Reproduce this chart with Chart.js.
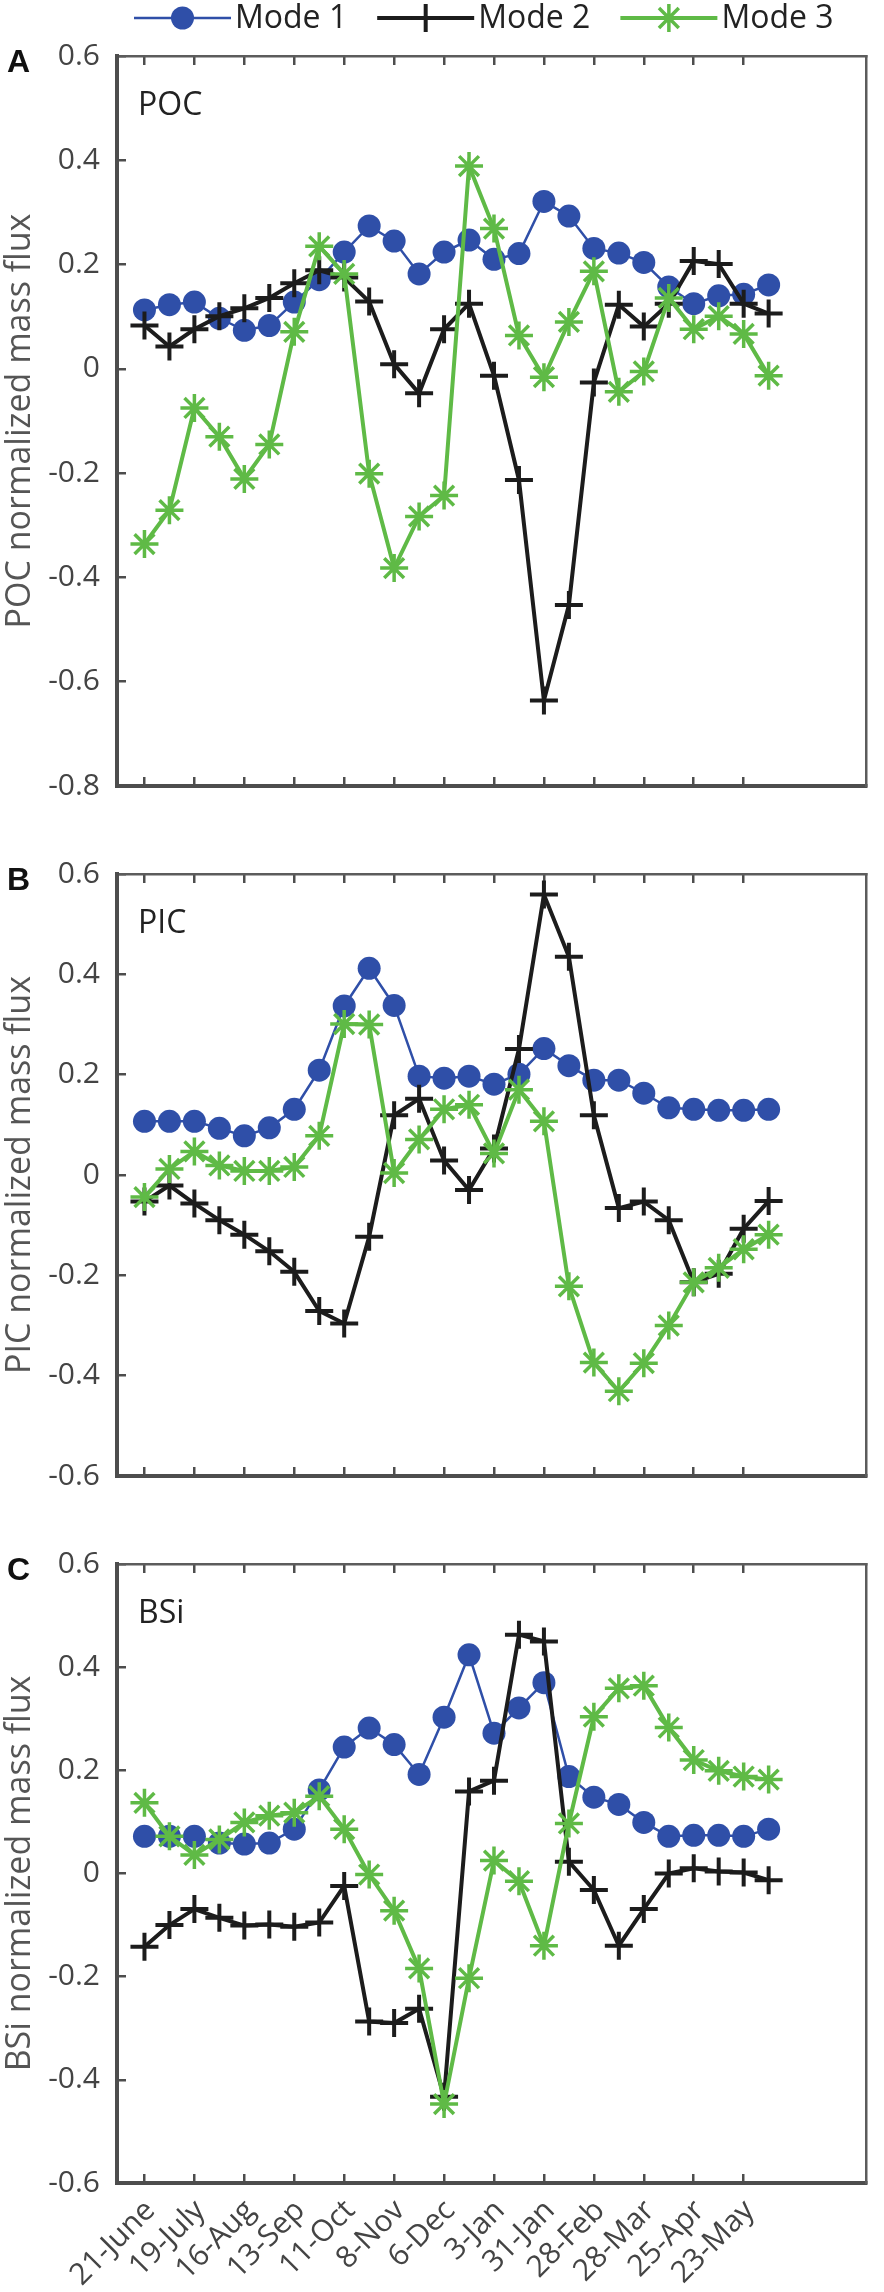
<!DOCTYPE html>
<html>
<head>
<meta charset="utf-8">
<script src="https://cdn.jsdelivr.net/npm/chart.js@4.4.1/dist/chart.umd.min.js"></script>
<style>
html, body { margin: 0; padding: 0; background: #fff; }
#wrap { position: relative; width: 884px; height: 2292px; }
.panel { position: absolute; left: 0; width: 884px; }
</style>
</head>
<body>
<div id="wrap">
  <div class="panel" style="top:0;height:830px"><canvas id="chartA"></canvas></div>
  <div class="panel" style="top:830px;height:690px"><canvas id="chartB"></canvas></div>
  <div class="panel" style="top:1520px;height:772px"><canvas id="chartC"></canvas></div>
</div>
<script>
// tick labels on the time axis (every 2nd sample, 28 days apart)
var xTickLabels = ['21-June', '19-July', '16-Aug', '13-Sep', '11-Oct', '8-Nov', '6-Dec',
                   '3-Jan', '31-Jan', '28-Feb', '28-Mar', '25-Apr', '23-May'];
var xTickPos = [0, 2, 4, 6, 8, 10, 12, 14, 16, 18, 20, 22, 24];

var seriesNames = ['Mode 1', 'Mode 2', 'Mode 3'];

// A - POC
var pocMode1 = [0.113, 0.123, 0.128, 0.097, 0.074, 0.083, 0.128, 0.171, 0.224, 0.274, 0.245, 0.182, 0.224,
                0.247, 0.210, 0.221, 0.321, 0.293, 0.231, 0.222, 0.204, 0.157, 0.125, 0.140, 0.143, 0.161];
var pocMode2 = [0.083, 0.043, 0.076, 0.101, 0.116, 0.136, 0.164, 0.189, 0.175, 0.129, 0.009, -0.047, 0.076,
                0.125, -0.013, -0.213, -0.636, -0.453, -0.026, 0.123, 0.081, 0.125, 0.207, 0.201, 0.125, 0.106];
var pocMode3 = [-0.336, -0.271, -0.075, -0.130, -0.211, -0.145, 0.071, 0.235, 0.182, -0.201, -0.382, -0.283, -0.243,
                0.389, 0.269, 0.064, -0.016, 0.090, 0.187, -0.044, -0.005, 0.136, 0.076, 0.101, 0.067, -0.013];

// B - PIC
var picMode1 = [0.107, 0.107, 0.107, 0.093, 0.078, 0.094, 0.131, 0.209, 0.337, 0.412, 0.338, 0.197, 0.193,
                0.197, 0.181, 0.201, 0.252, 0.218, 0.189, 0.189, 0.163, 0.134, 0.131, 0.129, 0.129, 0.131];
var picMode2 = [-0.053, -0.021, -0.057, -0.090, -0.119, -0.152, -0.193, -0.271, -0.296, -0.123, 0.119, 0.152, 0.029,
                -0.030, 0.053, 0.251, 0.559, 0.435, 0.119, -0.066, -0.053, -0.090, -0.214, -0.197, -0.107, -0.052];
var picMode3 = [-0.044, 0.012, 0.047, 0.019, 0.008, 0.008, 0.016, 0.078, 0.301, 0.300, 0.004, 0.071, 0.131,
                0.140, 0.043, 0.170, 0.107, -0.222, -0.374, -0.431, -0.375, -0.300, -0.214, -0.185, -0.148, -0.119];

// C - BSi
var bsiMode1 = [0.072, 0.072, 0.072, 0.059, 0.057, 0.059, 0.086, 0.162, 0.245, 0.282, 0.250, 0.192, 0.303,
                0.424, 0.272, 0.321, 0.370, 0.188, 0.148, 0.134, 0.099, 0.072, 0.074, 0.074, 0.072, 0.086];
var bsiMode2 = [-0.142, -0.100, -0.069, -0.086, -0.101, -0.099, -0.103, -0.095, -0.024, -0.287, -0.290, -0.262, -0.433,
                0.159, 0.180, 0.463, 0.450, 0.023, -0.032, -0.140, -0.069, 0.000, 0.010, 0.004, 0.002, -0.013];
var bsiMode3 = [0.137, 0.072, 0.036, 0.066, 0.099, 0.112, 0.118, 0.150, 0.086, -0.002, -0.072, -0.184, -0.447,
                -0.203, 0.025, -0.015, -0.140, 0.097, 0.304, 0.359, 0.364, 0.283, 0.220, 0.199, 0.188, 0.182];

var BLUE = '#2f4fa8';
var BLACK = '#1c1c1c';
var GREEN = '#5fba46';
var AXIS = '#4d4d4d';
var FRAME = '#5c5c5c';
var TICK = -9;   // negative tick length = ticks pointing into the plot

Chart.defaults.font.family = "'Open Sans', sans-serif";
Chart.defaults.color = '#444';

function toPoints(arr) {
    return arr.map(function (v, i) { return {x: i, y: v}; });
}

function makeDatasets(m1, m2, m3) {
    return [{
        label: seriesNames[0], data: toPoints(m1),
        borderColor: BLUE, backgroundColor: BLUE, borderWidth: 2.5,
        pointStyle: 'circle', pointRadius: 11.5, pointBorderWidth: 0,
        pointBackgroundColor: BLUE, order: 3
    }, {
        label: seriesNames[1], data: toPoints(m2),
        borderColor: BLACK, backgroundColor: BLACK, borderWidth: 4,
        pointStyle: 'cross', pointRadius: 14, pointBorderWidth: 4,
        pointBorderColor: BLACK, order: 2
    }, {
        label: seriesNames[2], data: toPoints(m3),
        borderColor: GREEN, backgroundColor: GREEN, borderWidth: 4,
        pointStyle: 'star', pointRadius: 14, pointBorderWidth: 3.5,
        pointBorderColor: GREEN, order: 1
    }];
}

function tickText(v) {
    var r = Math.round(v * 10) / 10;
    return r === 0 ? '0' : r.toFixed(1);
}

function setXTicks(s) {
    s.ticks = xTickPos.map(function (v) { return {value: v}; });
}

// panel letter and variable name
var labelPlugin = {
    id: 'panelText',
    afterDraw: function (chart, args, opts) {
        var ctx = chart.ctx, a = chart.chartArea;
        ctx.save();
        ctx.fillStyle = '#111';
        ctx.font = "bold 32px 'Liberation Sans', Arial, sans-serif";
        ctx.textBaseline = 'middle';
        ctx.textAlign = 'left';
        ctx.fillText(opts.letter, 7, a.top + 7);
        ctx.fillStyle = '#222';
        ctx.font = "32px 'Open Sans', sans-serif";
        ctx.textBaseline = 'alphabetic';
        ctx.fillText(opts.name, a.left + 21, a.top + 59);
        ctx.restore();
    }
};

// legend above panel A: line sample + marker + label for each dataset
var keyPlugin = {
    id: 'key',
    afterDraw: function (chart) {
        var ctx = chart.ctx, a = chart.chartArea;
        var lineLen = 97, gapText = 4, gapItem = 30;
        ctx.save();
        ctx.font = "32px 'Open Sans', sans-serif";
        var x = a.left + 17;
        var y = a.top - 38;
        chart.data.datasets.forEach(function (d) {
            ctx.strokeStyle = d.borderColor;
            ctx.fillStyle = d.borderColor;
            ctx.lineWidth = d.borderWidth;
            ctx.beginPath();
            ctx.moveTo(x, y);
            ctx.lineTo(x + lineLen, y);
            ctx.stroke();
            ctx.lineWidth = d.pointBorderWidth;
            Chart.helpers.drawPoint(ctx, {
                pointStyle: d.pointStyle, radius: d.pointRadius,
                borderWidth: d.pointBorderWidth, rotation: 0
            }, x + lineLen / 2, y);
            ctx.fillStyle = '#222';
            ctx.textBaseline = 'middle';
            ctx.fillText(d.label, x + lineLen + gapText, y + 1);
            x += lineLen + gapText + ctx.measureText(d.label).width + gapItem;
        });
        ctx.restore();
    }
};

function makePanel(id, datasets, yMin, yMax, yTitle, letter, name, pad, showXLabels, extra) {
    return new Chart(document.getElementById(id), {
        type: 'line',
        data: {datasets: datasets},
        options: {
            animation: false,
            responsive: true,
            maintainAspectRatio: false,
            events: [],
            layout: {padding: pad},
            plugins: {
                legend: {display: false},
                tooltip: {enabled: false},
                panelText: {letter: letter, name: name}
            },
            scales: {
                x: {
                    type: 'linear', position: 'bottom', min: -1.1, max: 28.9,
                    grid: {drawOnChartArea: false, drawTicks: true, tickLength: TICK, color: AXIS, lineWidth: 2.5},
                    border: {display: true, color: AXIS, width: 4},
                    afterBuildTicks: setXTicks,
                    afterFit: function (s) { s.height = showXLabels ? 109 : 0; },
                    ticks: {
                        display: showXLabels,
                        autoSkip: false, minRotation: 45, maxRotation: 45, padding: 19,
                        labelOffset: 6,
                        font: {size: 30}, color: '#444',
                        callback: function (v) { return xTickLabels[xTickPos.indexOf(v)]; }
                    }
                },
                xTop: {
                    type: 'linear', position: 'top', min: -1.1, max: 28.9,
                    grid: {drawOnChartArea: false, drawTicks: true, tickLength: TICK, color: AXIS, lineWidth: 2.5},
                    border: {display: true, color: FRAME, width: 2.5},
                    afterBuildTicks: setXTicks,
                    afterFit: function (s) { s.height = 0; },
                    ticks: {display: false}
                },
                y: {
                    position: 'left', min: yMin, max: yMax,
                    grid: {drawOnChartArea: false, drawTicks: true, tickLength: TICK, color: AXIS, lineWidth: 2.5},
                    border: {display: true, color: AXIS, width: 4},
                    afterFit: function (s) { s.width = 117; },
                    ticks: {stepSize: 0.2, padding: 26, font: {size: 30}, color: '#444', callback: tickText},
                    title: {
                        display: true, text: yTitle, color: '#555',
                        font: {size: 34}, padding: {top: 0, bottom: 0}
                    }
                },
                yRight: {
                    position: 'right', min: yMin, max: yMax,
                    grid: {display: false},
                    border: {display: true, color: FRAME, width: 2.5},
                    afterFit: function (s) { s.width = 0; },
                    ticks: {display: false}
                }
            }
        },
        plugins: [labelPlugin].concat(extra || [])
    });
}

makePanel('chartA', makeDatasets(pocMode1, pocMode2, pocMode3), -0.8, 0.6,
          'POC normalized mass flux', 'A', 'POC', {top: 56, bottom: 14, left: 0, right: 5}, false, [keyPlugin]);
makePanel('chartB', makeDatasets(picMode1, picMode2, picMode3), -0.6, 0.6,
          'PIC normalized mass flux', 'B', 'PIC', {top: 16, bottom: 21, left: 0, right: 5}, false);
makePanel('chartC', makeDatasets(bsiMode1, bsiMode2, bsiMode3), -0.6, 0.6,
          'BSi normalized mass flux', 'C', 'BSi', {top: 10, bottom: 0, left: 0, right: 5}, true);
</script>
</body>
</html>
